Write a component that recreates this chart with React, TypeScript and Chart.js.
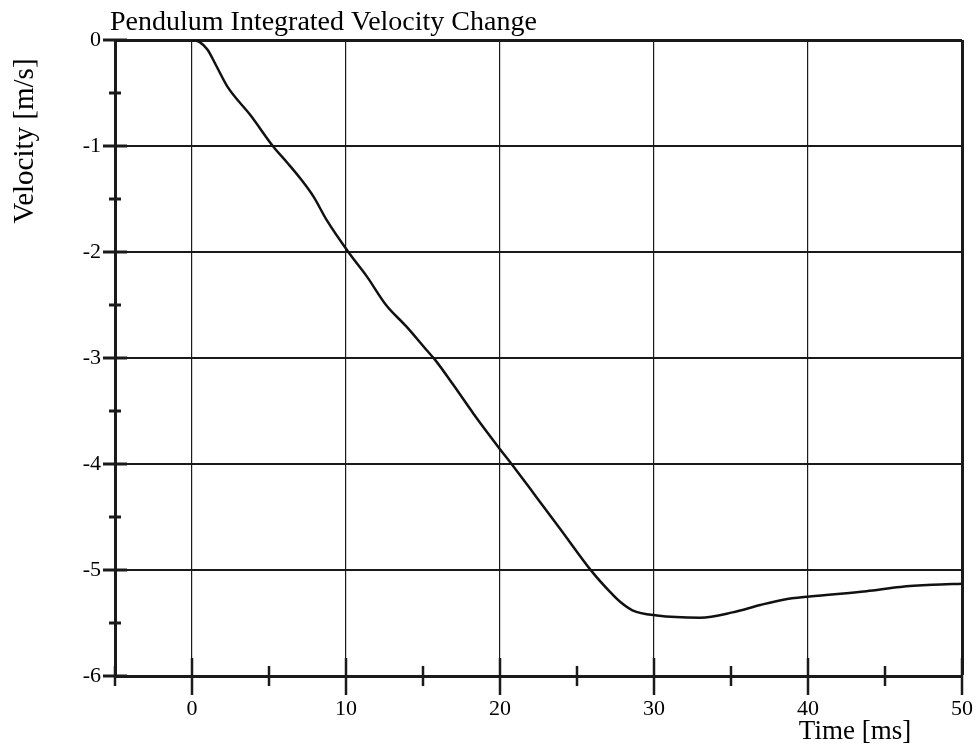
import React, { useEffect, useRef } from "react";
import { Chart, registerables } from "chart.js";

Chart.register(...registerables);

// Time [ms]
const timeMs = [
  0, 0.5, 1.0, 1.6, 2.3, 3.8, 5.3, 6.2, 7.0, 7.9, 8.75, 10.2, 11.35, 12.6,
  13.9, 15.2, 15.8, 17.0, 18.3, 20.0, 20.75, 22.2, 23.9, 26.0, 27.1,
  27.8, 28.6, 30.2, 33.0, 35.1, 36.9, 38.4, 40.1, 43.8, 46.0, 48.1, 50.0,
];
// Velocity [m/s]
const velocity = [
  0, -0.02, -0.09, -0.25, -0.44, -0.71, -1.01, -1.16, -1.3, -1.48, -1.7,
  -2.01, -2.23, -2.5, -2.7, -2.92, -3.02, -3.26, -3.53, -3.86, -4.0,
  -4.28, -4.61, -5.02, -5.2, -5.3, -5.38, -5.43, -5.45, -5.4, -5.33,
  -5.28, -5.25, -5.2, -5.16, -5.14, -5.13,
];

const xTickLabels = [0, 10, 20, 30, 40, 50];
const yTickLabels = [-6, -5, -4, -3, -2, -1, 0];
const xMarks = [-5, 0, 5, 10, 15, 20, 25, 30, 35, 40, 45, 50];
const yMarks = [-6, -5.5, -5, -4.5, -4, -3.5, -3, -2.5, -2, -1.5, -1, -0.5, 0];

const chartTitle = "Pendulum Integrated Velocity Change";
const xTitle = "Time [ms]";
const yTitle = "Velocity [m/s]";

const FONT = '"Liberation Serif", "Times New Roman", serif';
const INK = "#1a1a1a";

const decorPlugin = {
  id: "decor",
  afterDraw(chart: any) {
    const { ctx, chartArea } = chart;
    const xs = chart.scales.x;
    const ys = chart.scales.y;
    ctx.save();
    ctx.strokeStyle = INK;
    ctx.lineCap = "butt";
    yMarks.forEach((v) => {
      const py = ys.getPixelForValue(v);
      const major = Number.isInteger(v);
      const half = major ? 12 : 6;
      ctx.lineWidth = 3;
      ctx.beginPath();
      ctx.moveTo(chartArea.left - half, py);
      ctx.lineTo(chartArea.left + half, py);
      ctx.stroke();
    });
    xMarks.forEach((v) => {
      const px = xs.getPixelForValue(v);
      const major = v % 10 === 0;
      ctx.lineWidth = 2.5;
      ctx.beginPath();
      if (major) {
        ctx.moveTo(px, chartArea.bottom - 18);
        ctx.lineTo(px, chartArea.bottom + 19);
      } else {
        ctx.moveTo(px, chartArea.bottom - 10);
        ctx.lineTo(px, chartArea.bottom + 10);
      }
      ctx.stroke();
    });
    ctx.fillStyle = "#000";
    ctx.font = `28px ${FONT}`;
    ctx.textAlign = "left";
    ctx.textBaseline = "alphabetic";
    ctx.fillText(chartTitle, 110, 30);

    ctx.font = `27px ${FONT}`;
    ctx.textAlign = "center";
    ctx.fillText(xTitle, 855, 739);

    ctx.save();
    ctx.translate(25, 141);
    ctx.rotate(-Math.PI / 2);
    ctx.font = `29px ${FONT}`;
    ctx.textAlign = "center";
    ctx.textBaseline = "middle";
    ctx.fillText(yTitle, 0, 0);
    ctx.restore();
    ctx.restore();
  },
};

export default function App() {
  const ref = useRef<HTMLCanvasElement>(null);
  useEffect(() => {
    if (!ref.current) return;
    const chart = new Chart(ref.current, {
      type: "line",
      data: {
        datasets: [
          {
            data: timeMs.map((t, i) => ({ x: t, y: velocity[i] })),
            borderColor: "#111",
            borderWidth: 2.5,
            pointRadius: 0,
            tension: 0.4,
            cubicInterpolationMode: "monotone",
            fill: false,
          },
        ],
      },
      options: {
        responsive: false,
        animation: false,
        layout: { autoPadding: false, padding: { left: 0, top: 40, right: 14, bottom: 0 } },
        plugins: { legend: { display: false }, title: { display: false }, tooltip: { enabled: false } },
        scales: {
          x: {
            type: "linear",
            min: -5,
            max: 50,
            afterBuildTicks: (s: any) => {
              s.ticks = xTickLabels.map((v) => ({ value: v }));
            },
            afterFit: (s: any) => {
              s.height = 72;
              s.paddingLeft = 0;
              s.paddingRight = 0;
            },
            grid: {
              color: INK,
              lineWidth: (c: any) => (c.tick && c.tick.value === 50 ? 3 : 1.2),
              drawTicks: false,
            },
            border: { display: true, color: INK, width: 3 },
            ticks: {
              color: "#000",
              font: { family: FONT, size: 22 },
              padding: 20,
              maxRotation: 0,
              autoSkip: false,
            },
          },
          y: {
            type: "linear",
            min: -6,
            max: 0,
            afterBuildTicks: (s: any) => {
              s.ticks = yTickLabels.map((v) => ({ value: v }));
            },
            afterFit: (s: any) => {
              s.width = 115;
              s.paddingTop = 0;
              s.paddingBottom = 0;
            },
            grid: {
              color: INK,
              lineWidth: (c: any) => {
                const v = c.tick ? c.tick.value : null;
                if (v === 0) return 3;
                if (v === -6) return 0;
                return 2;
              },
              drawTicks: false,
            },
            border: { display: true, color: INK, width: 3 },
            ticks: {
              color: "#000",
              font: { family: FONT, size: 22 },
              padding: 14,
              autoSkip: false,
            },
          },
        },
      },
      plugins: [decorPlugin],
    } as any);
    return () => chart.destroy();
  }, []);
  return (
    <div style={{ position: "fixed", left: 0, top: 0, width: 976, height: 748, background: "#fff" }}>
      <canvas ref={ref} width={976} height={748} style={{ display: "block" }} />
    </div>
  );
}
